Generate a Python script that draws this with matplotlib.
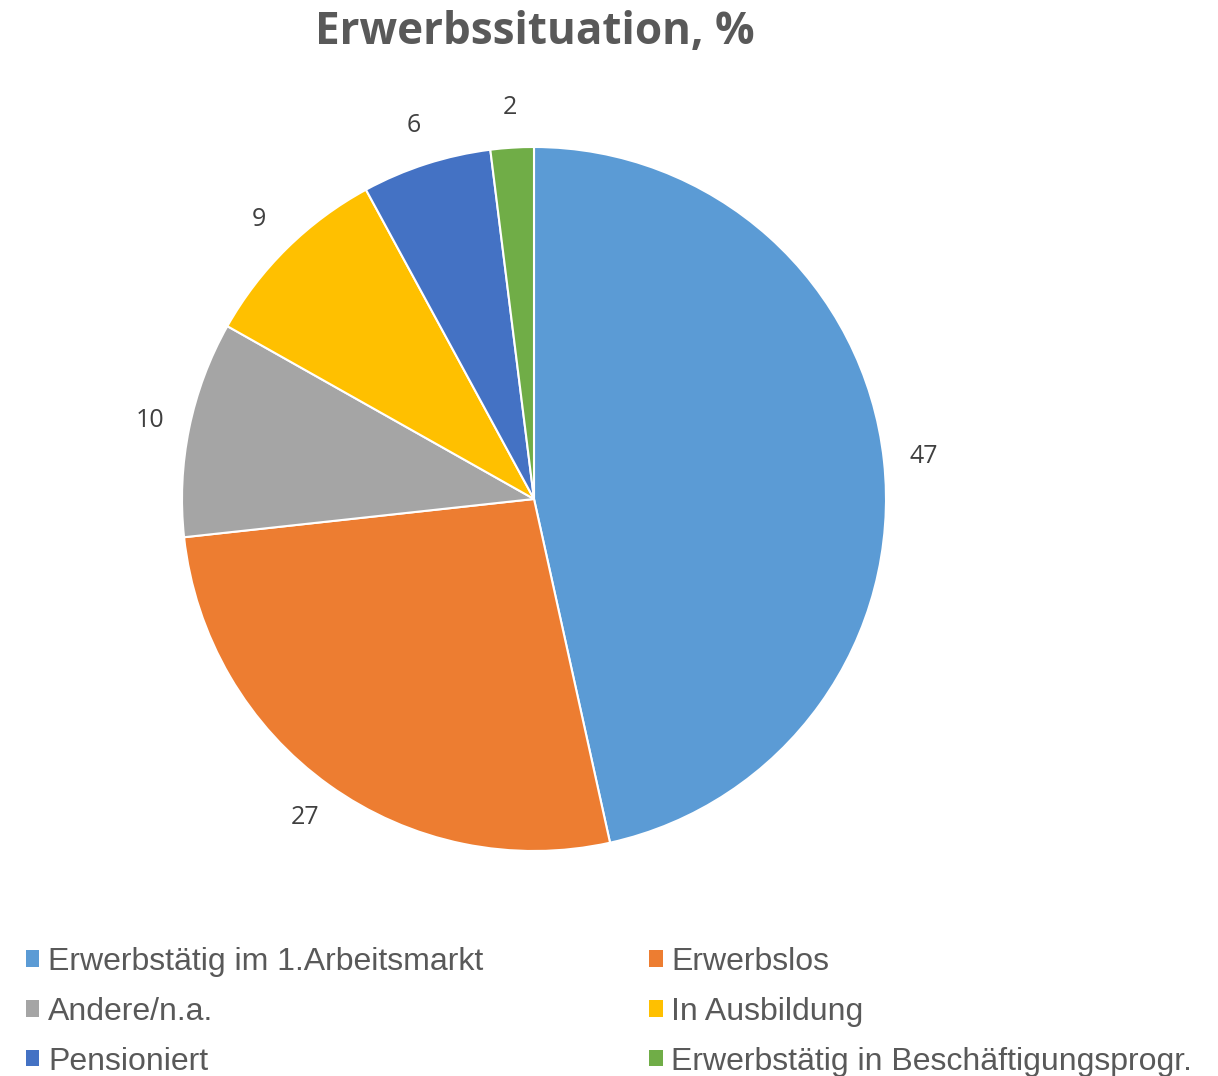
import matplotlib
matplotlib.use('Agg')
import matplotlib.pyplot as plt
import numpy as np

categories = ['Erwerbstätig im 1.Arbeitsmarkt', 'Erwerbslos', 'Andere/n.a.',
              'In Ausbildung', 'Pensioniert', 'Erwerbstätig in Beschäftigungsprogr.']
values = [47, 27, 10, 9, 6, 2]
colors = ['#5B9BD5', '#ED7D31', '#A5A5A5', '#FFC000', '#4472C4', '#70AD47']

W, H = 1218, 1076
fig = plt.figure(figsize=(W / 100, H / 100), dpi=100)

# pie area: centre (534, 499) px, radius 352 px
cx, cy, r = 534, 499, 352
ax = fig.add_axes([(cx - r) / W, (H - cy - r) / H, 2 * r / W, 2 * r / H])

wedges, texts = ax.pie(values, colors=colors, startangle=90, counterclock=False,
                       labels=[str(v) for v in values], labeldistance=1.115,
                       wedgeprops=dict(edgecolor='white', linewidth=1.5),
                       textprops=dict(fontsize=18, color='#404040', family='Open Sans'))
for t in texts:
    t.set_ha('center')
    t.set_va('center')
ax.set_xlim(-1, 1)
ax.set_ylim(-1, 1)
ax.set_aspect('equal')
ax.axis('off')

fig.text(535 / W, 1 - 32 / H, 'Erwerbssituation, %', ha='center', va='center',
         fontsize=31.7, fontweight='bold', color='#595959', family='Open Sans')

# legend, filled column by column
order = [0, 2, 4, 1, 3, 5]
leg = fig.legend([wedges[i] for i in order], [categories[i] for i in order],
                 loc='upper left', bbox_to_anchor=(26 / W, 1 - 947 / H), ncol=2,
                 frameon=False, handlelength=0.41, handleheight=0.41, handletextpad=0.28,
                 columnspacing=5.2, labelspacing=0.62, borderaxespad=0, borderpad=0,
                 prop=dict(family='Liberation Sans', size=23))
for h in leg.legend_handles:
    h.set_edgecolor('none')
for t in leg.get_texts():
    t.set_color('#595959')

plt.savefig('out.png', dpi=100)
